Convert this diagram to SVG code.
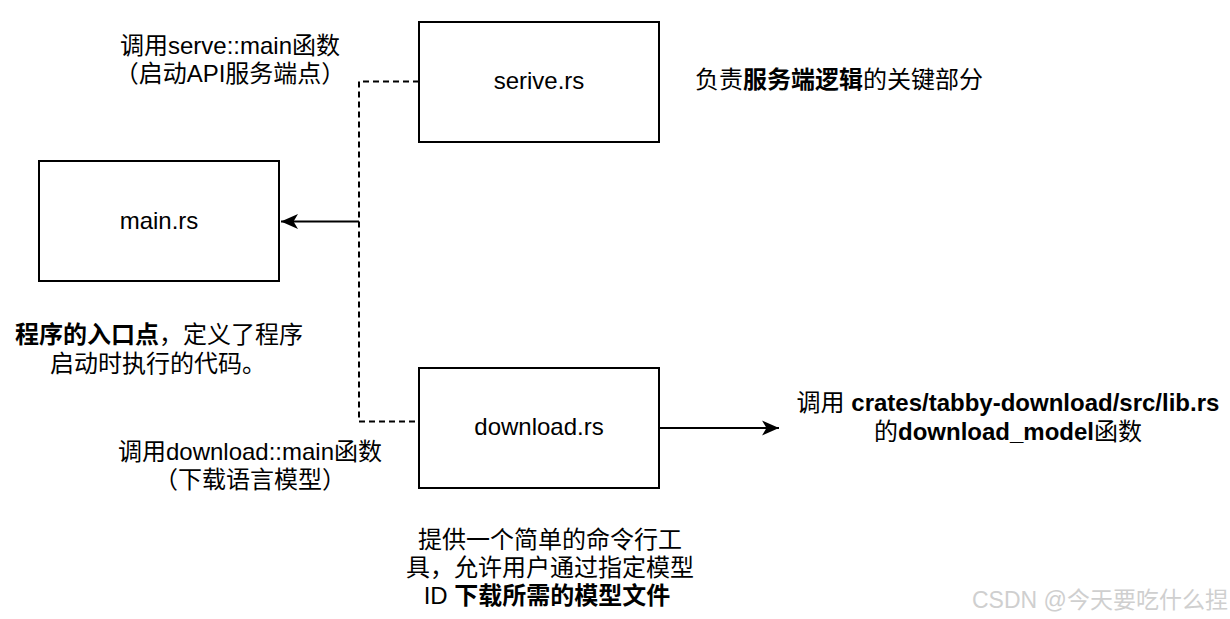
<svg xmlns="http://www.w3.org/2000/svg" width="1230" height="619" viewBox="0 0 1230 619">
<defs>
<style>
.box{fill:#fff;stroke:#000;stroke-width:2}
.t{font-family:"Liberation Sans","Noto Sans CJK SC",sans-serif;font-size:24px;fill:#000;text-anchor:middle}
.b{font-weight:bold}
.dash{fill:none;stroke:#000;stroke-width:2;stroke-dasharray:6 4}
.line{fill:none;stroke:#000;stroke-width:2}
.wm{font-family:"Liberation Sans","Noto Sans CJK SC",sans-serif;font-size:23px;fill:#cfcfcf}
</style>
<marker id="arr" markerUnits="userSpaceOnUse" markerWidth="20" markerHeight="16" viewBox="-18 -8 20 16" refX="0" refY="0" orient="auto">
<path d="M0,0 L-17,-7.5 L-12.5,0 L-17,7.5 Z" fill="#000"/>
</marker>
</defs>
<rect width="1230" height="619" fill="#fff"/>
<g id="connectors">
<path class="dash" d="M419,81.5 H359 V421.5 H419"/>
<path class="line" d="M359,221.5 H281" marker-end="url(#arr)"/>
<path class="line" d="M659,428 H779" marker-end="url(#arr)"/>
</g>
<g id="serive">
<rect class="box" x="419" y="22" width="240" height="120"/>
<text class="t" x="539" y="89">serive.rs</text>
</g>
<g id="main">
<rect class="box" x="39" y="161" width="240" height="120"/>
<text class="t" x="159" y="229">main.rs</text>
</g>
<g id="download">
<rect class="box" x="419" y="368" width="240" height="120"/>
<text class="t" x="539" y="435">download.rs</text>
</g>
<g id="label-serve">
<text class="t" x="230" y="54">调用serve::main函数</text>
<text class="t" x="230" y="82">（启动API服务端点）</text>
</g>
<g id="label-serive-desc">
<text class="t" x="839" y="88">负责<tspan class="b">服务端逻辑</tspan>的关键部分</text>
</g>
<g id="label-main-desc">
<text class="t" x="159" y="343"><tspan class="b">程序的入口点</tspan>，定义了程序</text>
<text class="t" x="158" y="372">启动时执行的代码。</text>
</g>
<g id="label-download-call">
<text class="t" x="250" y="460">调用download::main函数</text>
<text class="t" x="250" y="488">（下载语言模型）</text>
</g>
<g id="label-lib">
<text class="t" x="1008" y="411">调用 <tspan class="b">crates/tabby-download/src/lib.rs</tspan></text>
<text class="t" x="1008" y="440">的<tspan class="b">download_model</tspan>函数</text>
</g>
<g id="label-download-desc">
<text class="t" x="550" y="548">提供一个简单的命令行工</text>
<text class="t" x="550" y="576">具，允许用户通过指定模型</text>
<text class="t" x="547" y="604">ID <tspan class="b">下载所需的模型文件</tspan></text>
</g>
<text class="wm" x="972" y="608">CSDN @今天要吃什么捏</text>
</svg>
